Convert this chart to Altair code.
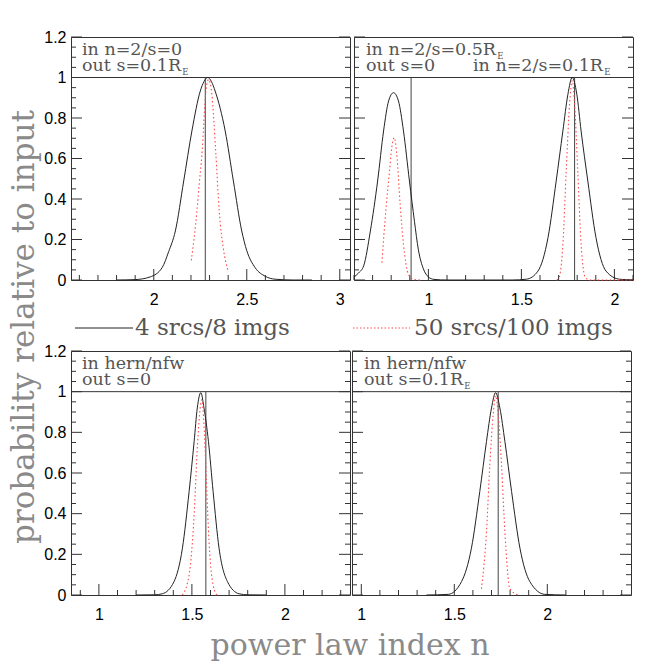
import altair as alt
import numpy as np
import pandas as pd

# ---------------- data ----------------
# x ranges of the four panels (power law index n)
p1_xdomain = [1.555, 3.055]
p2_xdomain = [0.60, 2.10]
p3_xdomain = [0.85, 2.35]
p4_xdomain = [0.95, 2.45]

# 4 srcs / 8 imgs (solid black)
p1_black_n = [1.80, 1.90, 1.98, 2.045, 2.08, 2.116, 2.161, 2.205, 2.25, 2.27, 2.29, 2.31, 2.33, 2.384, 2.428, 2.473, 2.50, 2.545, 2.60, 2.652, 2.75, 2.85]
p1_black_p = [0.0, 0.002, 0.015, 0.061, 0.14, 0.242, 0.489, 0.736, 0.933, 0.98, 1.0, 0.98, 0.933, 0.736, 0.489, 0.242, 0.145, 0.061, 0.018, 0.004, 0.0, 0.0]

p2_black_n = [0.60, 0.625, 0.652, 0.688, 0.727, 0.759, 0.786, 0.8125, 0.839, 0.866, 0.898, 0.925, 0.946, 0.973, 1.0, 1.03, 1.10,
              1.45, 1.527, 1.589, 1.643, 1.687, 1.723, 1.75, 1.773, 1.798, 1.821, 1.857, 1.901, 1.955, 2.027, 2.10]
p2_black_p = [0.015, 0.035, 0.07, 0.242, 0.489, 0.736, 0.884, 0.925, 0.884, 0.736, 0.489, 0.29, 0.15, 0.055, 0.015, 0.003, 0.0,
              0.0, 0.004, 0.044, 0.209, 0.489, 0.736, 0.917, 1.0, 0.917, 0.736, 0.489, 0.209, 0.044, 0.004, 0.0]

p3_black_n = [1.20, 1.30, 1.341, 1.404, 1.449, 1.485, 1.512, 1.529, 1.548, 1.565, 1.589, 1.614, 1.646, 1.691, 1.754, 1.80, 1.90]
p3_black_p = [0.0, 0.001, 0.006, 0.066, 0.23, 0.509, 0.755, 0.92, 0.995, 0.92, 0.755, 0.509, 0.23, 0.066, 0.006, 0.001, 0.0]

p4_black_n = [1.35, 1.467, 1.539, 1.592, 1.637, 1.673, 1.70, 1.722, 1.745, 1.772, 1.808, 1.853, 1.906, 1.987, 2.10]
p4_black_p = [0.0, 0.003, 0.066, 0.23, 0.509, 0.755, 0.92, 0.995, 0.92, 0.755, 0.509, 0.23, 0.066, 0.003, 0.0]

# 50 srcs / 100 imgs (dotted red), given as segments
p1_red_n = [[2.202, 2.232, 2.245, 2.259, 2.28, 2.295, 2.312, 2.334, 2.352, 2.375, 2.398]]
p1_red_p = [[0.097, 0.34, 0.48, 0.62, 0.93, 0.99, 0.92, 0.62, 0.34, 0.15, 0.05]]

p2_red_n = [[0.75, 0.768, 0.791, 0.803, 0.816, 0.830, 0.848, 0.866, 0.893, 0.92, 0.96],
            [1.69, 1.702, 1.723, 1.741, 1.759, 1.773, 1.786, 1.803, 1.821, 1.845, 1.87, 2.10]]
p2_red_p = [[0.085, 0.308, 0.538, 0.653, 0.703, 0.62, 0.374, 0.176, 0.028, 0.003, 0.0],
            [0.0, 0.01, 0.176, 0.538, 0.868, 0.985, 0.868, 0.538, 0.176, 0.01, 0.0, 0.0]]

p3_red_n = [[1.449, 1.485, 1.512, 1.529, 1.553, 1.565, 1.578, 1.592, 1.619, 1.637]]
p3_red_p = [[0.0, 0.098, 0.394, 0.722, 0.96, 0.837, 0.557, 0.263, 0.03, 0.0]]

p4_red_n = [[1.646, 1.673, 1.691, 1.709, 1.722, 1.736, 1.754, 1.772, 1.799, 1.844]]
p4_red_p = [[0.03, 0.31, 0.64, 0.887, 0.98, 0.887, 0.64, 0.31, 0.03, 0.0]]

# input values (vertical lines)
p1_input = [2.277]
p2_input = [0.907, 1.786]
p3_input = [1.575]
p4_input = [1.736]

# annotation texts
p1_text = ["in n=2/s=0", "out s=0.1R"]
p2_text = ["in n=2/s=0.5R", "out s=0", "in n=2/s=0.1R"]
p3_text = ["in hern/nfw", "out s=0"]
p4_text = ["in hern/nfw", "out s=0.1R"]
sub_text = "E"

legend_labels = ["4 srcs/8 imgs", "50 srcs/100 imgs"]
x_title = "power law index n"
y_title = "probability relative to input"

y_major = [0, 0.2, 0.4, 0.6, 0.8, 1.0, 1.2]

# ---------------- styling ----------------
SERIF = "DejaVu Serif"
SANS = "Liberation Sans"
FRAME = "#333333"
RED = "#ff4a4a"
W = 279
H_TOP, H_BOT = 243, 244
ANN = 17.5
LBL = 16

ADV = {" ": 0.318, "/": 0.337, ".": 0.318, "=": 0.838, "R": 0.73, "E": 0.715,
       "i": 0.32, "n": 0.644, "o": 0.602, "u": 0.644, "t": 0.402, "s": 0.513,
       "h": 0.644, "e": 0.592, "r": 0.478, "f": 0.371, "w": 0.856}


def text_w(s, size):
    return sum(ADV.get(c, 0.636) for c in s) * size


def ticks_between(lo, hi, step):
    k0 = int(np.ceil(lo / step - 1e-9))
    k1 = int(np.floor(hi / step + 1e-9))
    return [round(k * step, 4) for k in range(k0, k1 + 1)]


def make_panel(xdom, H, bn, bp, rn, rp, inputs, texts, left):
    xs = alt.Scale(domain=xdom, nice=False, zero=False)
    ys = alt.Scale(domain=[0, 1.2], nice=False, zero=False)
    x_major = ticks_between(xdom[0], xdom[1], 0.5)
    x_minor = [v for v in ticks_between(xdom[0], xdom[1], 0.1) if v not in x_major]
    y_minor = [v for v in ticks_between(0, 1.2, 0.05) if v not in y_major]
    xax = alt.Axis(values=x_major, format="~g", ticks=False, domain=False, grid=False,
                   labelFont=SANS, labelFontSize=LBL, labelColor="black",
                   labelPadding=11, labelFlush=False, title=None)
    if left:
        yax = alt.Axis(values=y_major, format="~g", ticks=False, domain=False, grid=False,
                       labelFont=SANS, labelFontSize=LBL, labelColor="black",
                       labelPadding=5, labelFlush=False, title=None)
    else:
        yax = None

    def X(f):
        return alt.X(f, type="quantitative", scale=xs, axis=xax)

    def Y(f):
        return alt.Y(f, type="quantitative", scale=ys, axis=yax)

    layers = []
    # y ticks, both sides, pointing inward
    for vals, ln in ((y_major, 11), (y_minor, 5)):
        d = pd.DataFrame({"v": vals})
        layers.append(alt.Chart(d).mark_rule(color=FRAME, strokeWidth=1).encode(
            y=Y("v"), x=alt.value(0), x2=alt.value(ln)))
        layers.append(alt.Chart(d).mark_rule(color=FRAME, strokeWidth=1).encode(
            y=Y("v"), x=alt.value(W - ln), x2=alt.value(W)))
    # x ticks
    for vals, ln in ((x_major, 11), (x_minor, 5)):
        d = pd.DataFrame({"v": vals})
        layers.append(alt.Chart(d).mark_rule(color=FRAME, strokeWidth=1).encode(
            x=X("v"), y=alt.value(H), y2=alt.value(H - ln)))
    # reference line at 1
    layers.append(alt.Chart(pd.DataFrame({"v": [1.0]})).mark_rule(color=FRAME, strokeWidth=1).encode(
        y=Y("v")))
    # input value lines
    dv = pd.DataFrame({"n": inputs, "lo": [0.0] * len(inputs), "hi": [1.0] * len(inputs)})
    layers.append(alt.Chart(dv).mark_rule(color="#444444", strokeWidth=1).encode(
        x=X("n"), y=Y("lo"), y2="hi"))
    # black curve
    db = pd.DataFrame({"n": bn, "p": bp})
    layers.append(alt.Chart(db).mark_line(color="#222222", strokeWidth=1, interpolate="monotone").encode(
        x=X("n"), y=Y("p")))
    # red dotted curve(s)
    rows = []
    for i, (ns, ps) in enumerate(zip(rn, rp)):
        for n_, p_ in zip(ns, ps):
            rows.append({"n": n_, "p": p_, "seg": i})
    dr = pd.DataFrame(rows)
    layers.append(alt.Chart(dr).mark_line(color=RED, strokeWidth=1.1, strokeDash=[1.5, 2.5],
                                          interpolate="monotone").encode(
        x=X("n"), y=Y("p"), detail="seg:N"))
    # annotations
    dt = pd.DataFrame(texts)
    layers.append(alt.Chart(dt).mark_text(align="left", baseline="alphabetic", font=SERIF,
                                          color="#555555").encode(
        x=alt.X("px:Q", scale=None), y=alt.Y("py:Q", scale=None),
        size=alt.Size("fs:Q", scale=None), text="t:N"))
    return alt.layer(*layers).properties(
        width=W, height=H, view=alt.ViewBackground(stroke=FRAME, strokeWidth=1))


def ann(lines, sub_after):
    """lines: list of (text, x, y); sub_after: indices of lines followed by subscript E"""
    out = []
    for i, (t, x, y) in enumerate(lines):
        out.append({"t": t, "px": x, "py": y, "fs": ANN})
        if i in sub_after:
            out.append({"t": sub_text, "px": x + text_w(t, ANN) + 1.5, "py": y + 4, "fs": 8.5})
    return out


L1, L2, X0 = 17.5, 33.5, 11
p1 = make_panel(p1_xdomain, H_TOP, p1_black_n, p1_black_p, p1_red_n, p1_red_p, p1_input,
                ann([(p1_text[0], X0, L1), (p1_text[1], X0, L2)], {1}), True)
p2 = make_panel(p2_xdomain, H_TOP, p2_black_n, p2_black_p, p2_red_n, p2_red_p, p2_input,
                ann([(p2_text[0], 12, L1), (p2_text[1], 12, L2), (p2_text[2], 119, L2)], {0, 2}), False)
p3 = make_panel(p3_xdomain, H_BOT, p3_black_n, p3_black_p, p3_red_n, p3_red_p, p3_input,
                ann([(p3_text[0], X0, L1), (p3_text[1], X0, L2)], set()), True)
p4 = make_panel(p4_xdomain, H_BOT, p4_black_n, p4_black_p, p4_red_n, p4_red_p, p4_input,
                ann([(p4_text[0], 12, L1), (p4_text[1], 12, L2)], {1}), False)

top_row = alt.hconcat(p1, p2, spacing=0)
bot_row = alt.hconcat(p3, p4, spacing=0)

# legend row
LEG_OFF = 4
dummy = pd.DataFrame({"a": [0]})
leg_y = 20
leg = alt.layer(
    alt.Chart(dummy).mark_rule(color="#222222", strokeWidth=1).encode(
        x=alt.value(LEG_OFF), x2=alt.value(LEG_OFF + 58), y=alt.value(leg_y)),
    alt.Chart(dummy).mark_rule(color=RED, strokeWidth=1, strokeDash=[1.5, 2]).encode(
        x=alt.value(LEG_OFF + 278), x2=alt.value(LEG_OFF + 335), y=alt.value(leg_y)),
    alt.Chart(pd.DataFrame({"t": legend_labels, "px": [LEG_OFF + 60, LEG_OFF + 339]})).mark_text(
        align="left", baseline="middle", font=SERIF, fontSize=23, color="#555555").encode(
        x=alt.X("px:Q", scale=None), y=alt.value(leg_y), text="t:N"),
).properties(width=570, height=34, view=alt.ViewBackground(stroke=None))

xt = alt.Chart(pd.DataFrame({"t": [x_title]})).mark_text(
    align="center", baseline="bottom", font=SERIF, fontSize=30, color="#8a8a8a").encode(
    x=alt.value(LEG_OFF + 275), y=alt.value(38), text="t:N"
).properties(width=570, height=38, view=alt.ViewBackground(stroke=None))

yt = alt.Chart(pd.DataFrame({"t": [y_title]})).mark_text(
    align="center", baseline="top", font=SERIF, fontSize=31, color="#8a8a8a", angle=270).encode(
    x=alt.value(1), y=alt.value(290), text="t:N"
).properties(width=33, height=600, view=alt.ViewBackground(stroke=None))

right = alt.vconcat(top_row, leg, bot_row, xt, spacing=0)
chart = alt.hconcat(yt, right, spacing=1).properties(
    padding={"left": 0, "top": 20, "right": 0, "bottom": 0}
).configure_view(stroke=None).configure(background="white")

chart.save("out.html", embed_options={"renderer": "svg", "actions": False})
